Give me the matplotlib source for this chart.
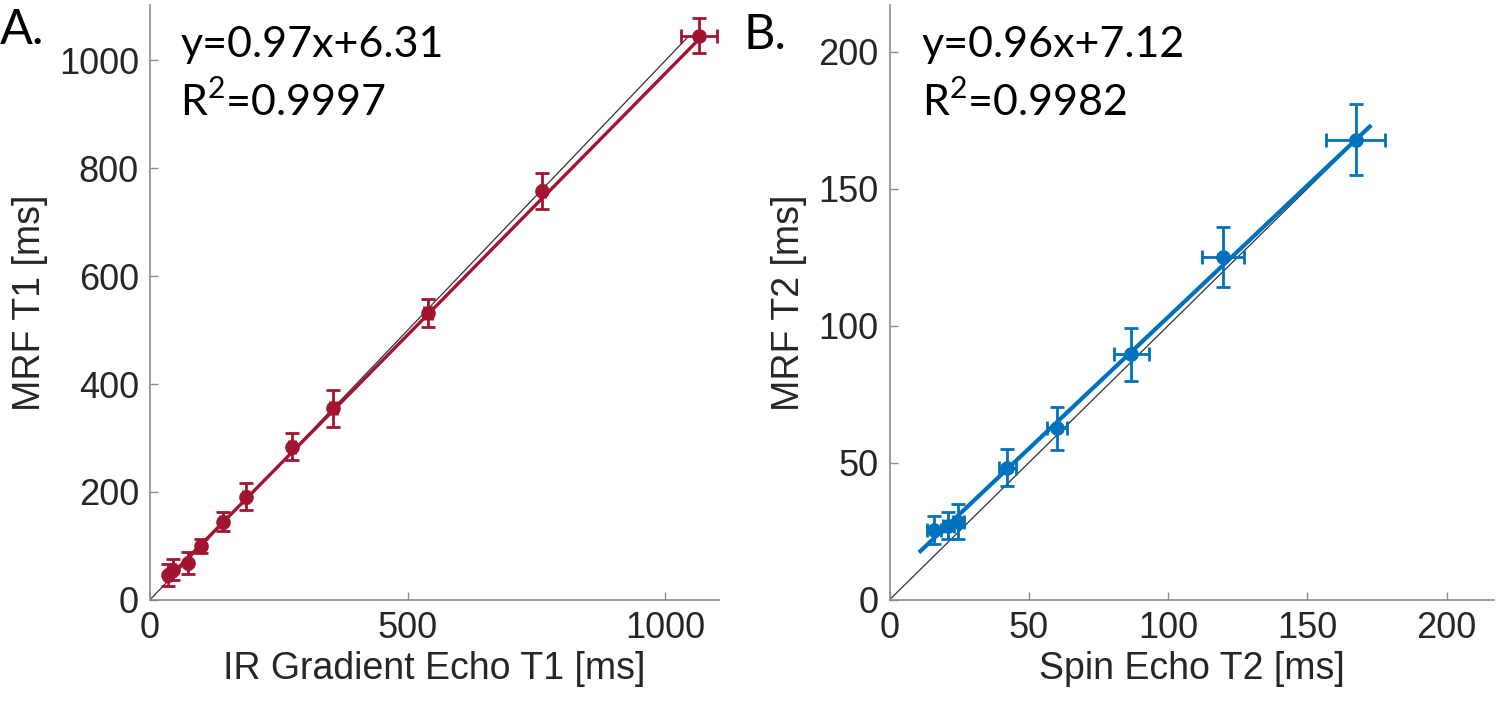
import numpy as np
import matplotlib
matplotlib.use("Agg")
import matplotlib.pyplot as plt

# ── Panel A: T1 ──────────────────────────────────────────────────────────────
t1_ref = [35, 45, 73, 99, 141, 186, 276, 356, 540, 761, 1066]
t1_mrf = [46, 56, 68, 99, 145, 191, 284, 355, 532, 758, 1046]
t1_ref_err = [4, 4, 4, 4, 5, 5, 6, 6, 8, 5, 35]
t1_mrf_err = [20, 19, 20, 13, 17, 25, 25, 34, 26, 33, 33]
t1_slope, t1_icpt, t1_r2 = 0.97, 6.31, 0.9997

# ── Panel B: T2 ──────────────────────────────────────────────────────────────
t2_ref = [16.1, 21.1, 24.7, 42.3, 60.2, 86.8, 119.7, 167.4]
t2_mrf = [25.5, 27.0, 28.5, 48.2, 62.5, 89.5, 125.0, 167.9]
t2_ref_err = [2.5, 2.0, 2.0, 3.0, 3.5, 6.2, 7.7, 10.6]
t2_mrf_err = [5.0, 5.0, 6.4, 6.7, 8.0, 9.6, 11.0, 12.8]
t2_slope, t2_icpt, t2_r2 = 0.96, 7.12, 0.9982

RED = "#A2142F"
BLUE = "#0072BD"
TICK_FONT = "Liberation Sans"
EQ_FONT = "Lato"

plt.rcParams["mathtext.fontset"] = "custom"
plt.rcParams["mathtext.rm"] = EQ_FONT


def draw_panel(ax, xs, ys, xerr, yerr, slope, icpt, r2, color, lim, ticks,
               xlabel, ylabel, fit_pad, fit_lw):
    xs = np.asarray(xs)
    x_fit = np.array([xs.min() - fit_pad, xs.max() + fit_pad])
    y_fit = slope * x_fit + icpt

    # identity line
    ax.plot([0, y_fit[-1]], [0, y_fit[-1]], color="#333333", lw=0.9, zorder=1)
    ax.plot(x_fit, y_fit, color=color, lw=fit_lw, zorder=2)
    ax.errorbar(xs, ys, xerr=xerr, yerr=yerr, fmt="o", color=color,
                markersize=9.5, elinewidth=2, capsize=5, capthick=2, zorder=3)

    ax.set_xlim(0, lim)
    ax.set_ylim(0, lim)
    ax.set_xticks(ticks[0])
    ax.set_yticks(ticks[1])
    for side in ("top", "right"):
        ax.spines[side].set_visible(False)
    for side in ("left", "bottom"):
        ax.spines[side].set_color("#8c8c8c")
        ax.spines[side].set_linewidth(1.2)
    ax.tick_params(direction="in", length=6, width=1, color="#8c8c8c",
                   labelsize=26, labelcolor="#262626", pad=8)
    for lbl in ax.get_xticklabels() + ax.get_yticklabels():
        lbl.set_fontfamily(TICK_FONT)
    ax.set_xlabel(xlabel, fontsize=27, family=TICK_FONT, color="#262626",
                  labelpad=4)
    ax.set_ylabel(ylabel, fontsize=27, family=TICK_FONT, color="#262626",
                  labelpad=8)

    ax.text(0.053, 0.932, f"y={slope:.2f}x+{icpt:.2f}", transform=ax.transAxes,
            fontsize=31, family=EQ_FONT, va="center", ha="left")
    ax.text(0.053, 0.838, "R$^\\mathrm{2}$=" + f"{r2:.4f}", transform=ax.transAxes,
            fontsize=31, family=EQ_FONT, va="center", ha="left")


fig = plt.figure(figsize=(15, 7.04), dpi=100)
ax_a = fig.add_axes([0.100, 0.148, 0.379, 0.845])
ax_b = fig.add_axes([0.593, 0.148, 0.403, 0.845])

draw_panel(ax_a, t1_ref, t1_mrf, t1_ref_err, t1_mrf_err, t1_slope, t1_icpt,
           t1_r2, RED, 1103, ([0, 500, 1000], [0, 200, 400, 600, 800, 1000]),
           "IR Gradient Echo T1 [ms]", "MRF T1 [ms]", 5, 2.4)
draw_panel(ax_b, t2_ref, t2_mrf, t2_ref_err, t2_mrf_err, t2_slope, t2_icpt,
           t2_r2, BLUE, 217, ([0, 50, 100, 150, 200], [0, 50, 100, 150, 200]),
           "Spin Echo T2 [ms]", "MRF T2 [ms]", 5, 3.0)

fig.text(0.0, 0.958, "A.", fontsize=35, family=EQ_FONT, va="center", ha="left")
fig.text(0.496, 0.950, "B.", fontsize=35, family=EQ_FONT, va="center", ha="left")

fig.savefig("out.png", dpi=100)
